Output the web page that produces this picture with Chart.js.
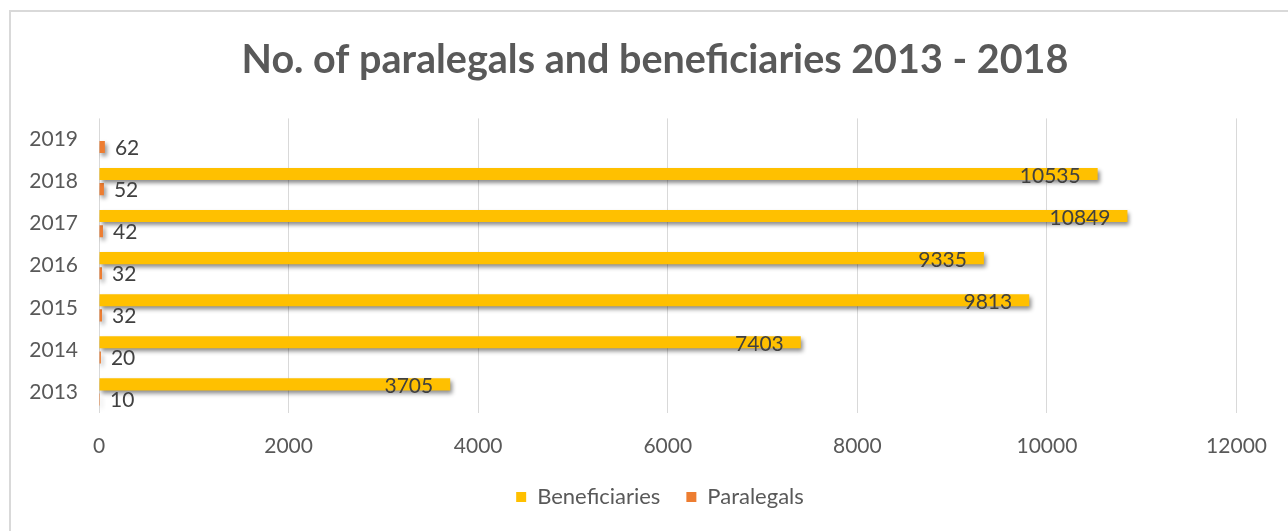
<!DOCTYPE html>
<html>
<head>
<meta charset="utf-8">
<title>No. of paralegals and beneficiaries 2013 - 2018</title>
<script src="https://cdn.jsdelivr.net/npm/chart.js@4.4.0/dist/chart.umd.min.js"></script>
<style>
  body { margin: 0; background: #fff; overflow: hidden; }
  #wrap { position: relative; width: 1288px; height: 531px; }
  #frame { position: absolute; left: 9px; top: 10px; width: 1300px; height: 540px;
           border-left: 2px solid #d9d9d9; border-top: 2px solid #d9d9d9; }
  #chart { position: absolute; left: 0; top: 0; }
</style>
</head>
<body>
<div id="wrap">
  <div id="frame"></div>
  <canvas id="chart" width="1288" height="531"></canvas>
</div>
<script>
'use strict';

let years = ['2013', '2014', '2015', '2016', '2017', '2018', '2019'];
let beneficiaries = [3705, 7403, 9813, 9335, 10849, 10535, null];
let paralegals = [10, 20, 32, 32, 42, 52, 62];
let xTicks = [0, 2000, 4000, 6000, 8000, 10000, 12000];

let textGrey = '#595959';
let fontName = 'Lato';

// latest year sits on top, so feed the category axis top-to-bottom
let yLabels = years.slice().reverse();
let benData = beneficiaries.slice().reverse();
let parData = paralegals.slice().reverse();

// title and legend in the original sit a bit right of canvas centre
let nudgeBoxes = {
    id: 'nudgeBoxes',
    afterLayout(chart) {
        if (chart.titleBlock) {
            chart.titleBlock.left += 33;
            chart.titleBlock.right += 33;
        }
        if (chart.legend) {
            chart.legend.left += 38;
            chart.legend.right += 38;
        }
    }
};

// soft drop shadow under the bars
let barShadow = {
    id: 'barShadow',
    beforeDatasetsDraw(chart) {
        let ctx = chart.ctx;
        ctx.save();
        ctx.shadowColor = 'rgba(0,0,0,0.45)';
        ctx.shadowBlur = 4;
        ctx.shadowOffsetX = 2;
        ctx.shadowOffsetY = 3;
    },
    afterDatasetsDraw(chart) {
        chart.ctx.restore();
    }
};

// value labels: inside end for beneficiaries, outside end for paralegals
let barLabels = {
    id: 'barLabels',
    afterDatasetsDraw(chart) {
        let ctx = chart.ctx;
        ctx.save();
        ctx.font = '21px ' + fontName;
        ctx.fillStyle = '#404040';
        ctx.textBaseline = 'middle';
        chart.data.datasets.forEach(function (ds, i) {
            let meta = chart.getDatasetMeta(i);
            meta.data.forEach(function (bar, j) {
                let v = ds.data[j];
                if (v === null || v === undefined) return;
                if (i === 0) {
                    ctx.textAlign = 'right';
                    ctx.fillText(String(v), bar.x - 17, bar.y + 2);
                } else {
                    ctx.textAlign = 'left';
                    ctx.fillText(String(v), bar.x + 10, bar.y + 1);
                }
            });
        });
        ctx.restore();
    }
};

let ctx = document.getElementById('chart').getContext('2d');
let myChart = new Chart(ctx, {
    type: 'bar',
    data: {
        labels: yLabels,
        datasets: [{
            label: 'Beneficiaries',
            data: benData,
            backgroundColor: '#FFC000',
            borderWidth: 0,
            categoryPercentage: 0.72,
            barPercentage: 0.8
        },
        {
            label: 'Paralegals',
            data: parData,
            backgroundColor: '#ED7D31',
            borderWidth: 0,
            categoryPercentage: 0.72,
            barPercentage: 0.8
        }]
    },
    options: {
        indexAxis: 'y',
        responsive: false,
        animation: false,
        layout: { padding: { left: 0, right: 44, top: 0, bottom: 13 } },
        plugins: {
            title: {
                display: true,
                text: 'No. of paralegals and beneficiaries 2013 - 2018',
                color: textGrey,
                font: { family: fontName, size: 39.5, weight: 'bold' },
                padding: { top: 37, bottom: 34 }
            },
            legend: {
                position: 'bottom',
                labels: {
                    color: textGrey,
                    font: { family: fontName, size: 22 },
                    boxWidth: 10,
                    boxHeight: 10,
                    padding: 26
                }
            },
            tooltip: { enabled: false }
        },
        scales: {
            x: {
                min: 0,
                max: 12000,
                afterBuildTicks: function (scale) {
                    scale.ticks = xTicks.map(function (v) { return { value: v }; });
                },
                afterFit: function (scale) { scale.height = 47; },
                grid: { color: '#d9d9d9', drawTicks: false },
                border: { display: false },
                ticks: {
                    color: textGrey,
                    font: { family: fontName, size: 21 },
                    padding: 21,
                    maxRotation: 0,
                    callback: function (v) { return String(v); }
                }
            },
            y: {
                afterFit: function (scale) { scale.width = 99; },
                grid: { display: false, drawTicks: false },
                border: { display: false },
                ticks: {
                    color: textGrey,
                    font: { family: fontName, size: 21 },
                    padding: 21
                }
            }
        }
    },
    plugins: [nudgeBoxes, barShadow, barLabels]
});
</script>
</body>
</html>
